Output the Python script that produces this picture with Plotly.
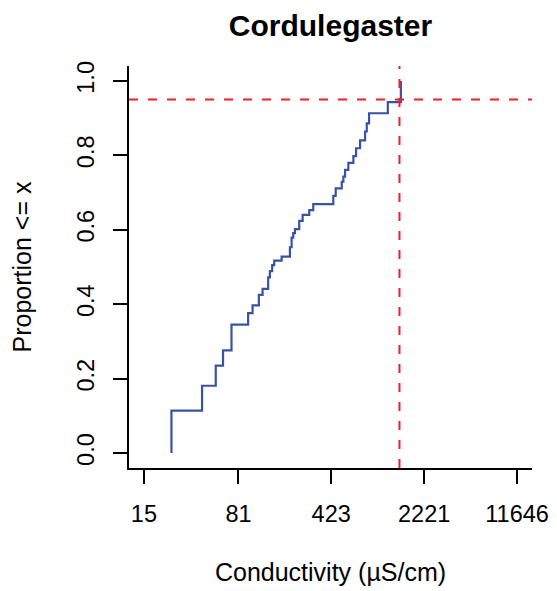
import numpy as np
import plotly.graph_objects as go

# step positions of the ECDF (conductivity, uS/cm) and cumulative proportion after each step
conductivity = [24.5, 42.3, 54.0, 61.5, 71.5, 96.2, 104.1, 116.5, 124.5, 137.5,
                141.8, 147.7, 153.1, 174.8, 202.7, 208.9, 215.0, 221.6, 239.3, 254.3,
                286.1, 307.3, 439.4, 458.6, 510.7, 525.5, 541.7, 574.6, 628.4, 659.3,
                708.2, 774.2, 798.1, 831.6, 1161.5, 1465.6]
proportion = [0.114, 0.181, 0.235, 0.276, 0.345, 0.376, 0.397, 0.425, 0.441, 0.472,
              0.489, 0.505, 0.517, 0.528, 0.553, 0.579, 0.591, 0.602, 0.624, 0.640,
              0.653, 0.669, 0.691, 0.711, 0.729, 0.743, 0.761, 0.780, 0.798, 0.819,
              0.840, 0.864, 0.886, 0.913, 0.943, 1.0]

x_ticks = [15, 81, 423, 2221, 11646]
y_ticks = [0.0, 0.2, 0.4, 0.6, 0.8, 1.0]

# 95th percentile marker
q95_value = 1430
q95_prop = 0.95

title_text = "Cordulegaster"
FONT = "Liberation Sans, Arial, sans-serif"

# R-style 4% padding around the data range
lx0, lx1 = np.log10(x_ticks[0]), np.log10(x_ticks[-1])
pad = 0.04 * (lx1 - lx0)
x_range = [lx0 - pad, lx1 + pad]
y_range = [-0.04, 1.04]

fig = go.Figure()

fig.add_trace(go.Scatter(
    x=[conductivity[0]] + conductivity,
    y=[0] + proportion,
    mode="lines",
    line=dict(color="#3953A4", width=2.2, shape="hv"),
    showlegend=False,
    hoverinfo="skip",
))

# dashed reference lines
fig.add_shape(type="line", xref="paper", yref="y", x0=0, x1=1, y0=q95_prop, y1=q95_prop,
              line=dict(color="#F21E26", width=2, dash="9px,10px"))
fig.add_shape(type="line", xref="x", yref="paper", x0=q95_value, x1=q95_value, y0=0, y1=1,
              line=dict(color="#F21E26", width=2, dash="9px,10px"))

# the page body adds an 8px offset, margins below account for it
fig.update_layout(
    width=557, height=591,
    margin=dict(l=121, r=33, t=58, b=131),
    paper_bgcolor="white", plot_bgcolor="white",
    font=dict(family=FONT, size=23.5, color="black"),
    title=dict(text="<b>" + title_text + "</b>", x=0.5, xref="paper", xanchor="center",
               y=1 - 17 / 591, yref="container", yanchor="middle",
               font=dict(size=30, family=FONT, color="black")),
)

fig.update_xaxes(
    type="log", range=x_range, automargin=False,
    tickvals=x_ticks, ticktext=[str(v) for v in x_ticks],
    tickfont=dict(size=23.5), ticklabelstandoff=10,
    ticks="outside", ticklen=14, tickwidth=2, tickcolor="black",
    showline=True, linewidth=2, linecolor="black", mirror=False,
    showgrid=False, zeroline=False,
    title=dict(text="Conductivity (µS/cm)", standoff=37, font=dict(size=25)),
)
fig.update_yaxes(
    range=y_range, automargin=False,
    tickvals=y_ticks, ticktext=["%.1f" % v for v in y_ticks], tickangle=-90,
    tickfont=dict(size=23.5), ticklabelstandoff=10,
    ticks="outside", ticklen=14, tickwidth=2, tickcolor="black",
    showline=True, linewidth=2, linecolor="black", mirror=False,
    showgrid=False, zeroline=False,
    title=dict(text="Proportion <= x", standoff=34, font=dict(size=25)),
)

fig.write_html("out.html")
